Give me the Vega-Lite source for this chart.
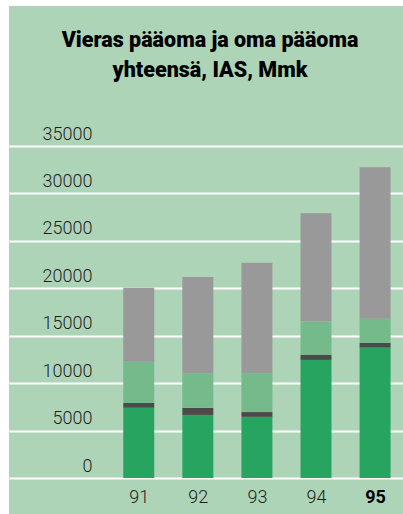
{
  "$schema": "https://vega.github.io/schema/vega-lite/v6.json",
  "width": 394,
  "height": 508,
  "autosize": {"type": "none"},
  "padding": {"left": 9, "top": 6, "right": 0, "bottom": 0},
  "background": "#ffffff",
  "title": {
    "text": ["Vieras pääoma ja oma pääoma", "yhteensä, IAS, Mmk"],
    "font": "Roboto",
    "fontSize": 21.5,
    "fontWeight": 900,
    "color": "#000000",
    "lineHeight": 30,
    "anchor": "middle",
    "frame": "group",
    "dx": 4,
    "offset": -75
  },
  "config": {
    "view": {"fill": "#add4b7", "stroke": null},
    "font": "Roboto"
  },
  "data": {
    "values": [
      {"year": 91, "part": "a", "o": 1, "value": 7400},
      {"year": 91, "part": "b", "o": 2, "value": 500},
      {"year": 91, "part": "c", "o": 3, "value": 4350},
      {"year": 91, "part": "d", "o": 4, "value": 7800},
      {"year": 92, "part": "a", "o": 1, "value": 6650},
      {"year": 92, "part": "b", "o": 2, "value": 750},
      {"year": 92, "part": "c", "o": 3, "value": 3650},
      {"year": 92, "part": "d", "o": 4, "value": 10150},
      {"year": 93, "part": "a", "o": 1, "value": 6450},
      {"year": 93, "part": "b", "o": 2, "value": 500},
      {"year": 93, "part": "c", "o": 3, "value": 4100},
      {"year": 93, "part": "d", "o": 4, "value": 11650},
      {"year": 94, "part": "a", "o": 1, "value": 12450},
      {"year": 94, "part": "b", "o": 2, "value": 550},
      {"year": 94, "part": "c", "o": 3, "value": 3500},
      {"year": 94, "part": "d", "o": 4, "value": 11400},
      {"year": 95, "part": "a", "o": 1, "value": 13750},
      {"year": 95, "part": "b", "o": 2, "value": 500},
      {"year": 95, "part": "c", "o": 3, "value": 2550},
      {"year": 95, "part": "d", "o": 4, "value": 15950}
    ]
  },
  "mark": {"type": "bar", "width": 31},
  "encoding": {
    "x": {
      "field": "year",
      "type": "quantitative",
      "scale": {"domain": [88.8887, 95.3877], "nice": false, "zero": false},
      "axis": {
        "title": null,
        "values": [91, 92, 93, 94, 95],
        "grid": false,
        "domain": false,
        "ticks": false,
        "tickSize": 0,
        "labelPadding": -12,
        "labelBaseline": "alphabetic",
        "labelFont": "Roboto",
        "labelFontSize": 18,
        "labelFlush": false,
        "labelOverlap": false,
        "labelFontWeight": {"condition": {"test": "datum.value == 95", "value": "bold"}, "value": 300},
        "labelColor": {"condition": {"test": "datum.value == 95", "value": "#000000"}, "value": "#1e1e1e"}
      }
    },
    "y": {
      "field": "value",
      "type": "quantitative",
      "aggregate": "sum",
      "stack": "zero",
      "scale": {"domain": [-3795, 49760], "nice": false, "zero": false},
      "axis": {
        "title": null,
        "values": [0, 5000, 10000, 15000, 20000, 25000, 30000, 35000],
        "format": "d",
        "grid": true,
        "gridColor": "#ffffff",
        "gridWidth": 2,
        "gridOpacity": 1,
        "domain": false,
        "ticks": false,
        "tickSize": 0,
        "labelPadding": -83,
        "labelAlign": "right",
        "labelBaseline": "alphabetic",
        "labelOffset": -7,
        "labelFont": "Roboto",
        "labelFontWeight": 300,
        "labelFontSize": 18,
        "labelColor": "#1e1e1e",
        "labelFlush": false,
        "labelOverlap": false,
        "labelBound": false
      }
    },
    "color": {
      "field": "part",
      "type": "nominal",
      "scale": {"domain": ["a", "b", "c", "d"], "range": ["#27a460", "#4a4a4a", "#74ba8b", "#999999"]},
      "legend": null
    },
    "order": {"field": "o", "type": "quantitative"}
  }
}
